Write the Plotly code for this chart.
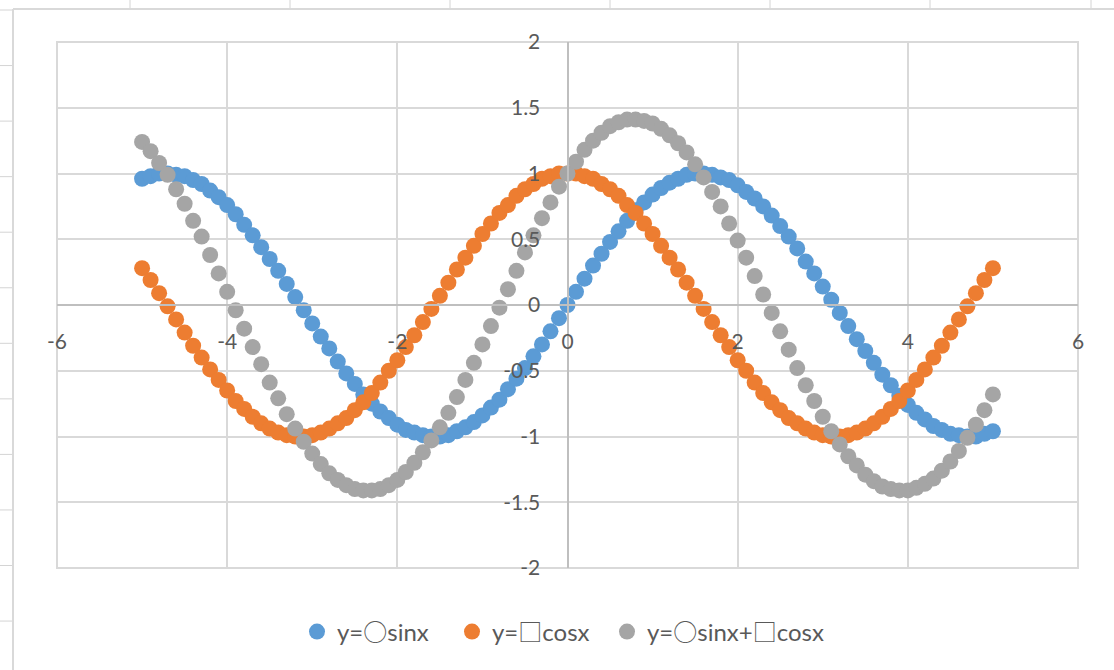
import plotly.graph_objects as go

# x from -5 to 5 in steps of 0.1
x_vals = [
    -5.0, -4.9, -4.8, -4.7, -4.6, -4.5, -4.4, -4.3, -4.2, -4.1,
    -4.0, -3.9, -3.8, -3.7, -3.6, -3.5, -3.4, -3.3, -3.2, -3.1,
    -3.0, -2.9, -2.8, -2.7, -2.6, -2.5, -2.4, -2.3, -2.2, -2.1,
    -2.0, -1.9, -1.8, -1.7, -1.6, -1.5, -1.4, -1.3, -1.2, -1.1,
    -1.0, -0.9, -0.8, -0.7, -0.6, -0.5, -0.4, -0.3, -0.2, -0.1,
    0.0, 0.1, 0.2, 0.3, 0.4, 0.5, 0.6, 0.7, 0.8, 0.9,
    1.0, 1.1, 1.2, 1.3, 1.4, 1.5, 1.6, 1.7, 1.8, 1.9,
    2.0, 2.1, 2.2, 2.3, 2.4, 2.5, 2.6, 2.7, 2.8, 2.9,
    3.0, 3.1, 3.2, 3.3, 3.4, 3.5, 3.6, 3.7, 3.8, 3.9,
    4.0, 4.1, 4.2, 4.3, 4.4, 4.5, 4.6, 4.7, 4.8, 4.9,
    5.0,
]

sin_vals = [
    0.96, 0.98, 1.00, 1.00, 0.99, 0.98, 0.95, 0.92, 0.87, 0.82,
    0.76, 0.69, 0.61, 0.53, 0.44, 0.35, 0.26, 0.16, 0.06, -0.04,
    -0.14, -0.24, -0.33, -0.43, -0.52, -0.60, -0.68, -0.75, -0.81, -0.86,
    -0.91, -0.95, -0.97, -0.99, -1.00, -1.00, -0.99, -0.96, -0.93, -0.89,
    -0.84, -0.78, -0.72, -0.64, -0.56, -0.48, -0.39, -0.30, -0.20, -0.10,
    0.00, 0.10, 0.20, 0.30, 0.39, 0.48, 0.56, 0.64, 0.72, 0.78,
    0.84, 0.89, 0.93, 0.96, 0.99, 1.00, 1.00, 0.99, 0.97, 0.95,
    0.91, 0.86, 0.81, 0.75, 0.68, 0.60, 0.52, 0.43, 0.33, 0.24,
    0.14, 0.04, -0.06, -0.16, -0.26, -0.35, -0.44, -0.53, -0.61, -0.69,
    -0.76, -0.82, -0.87, -0.92, -0.95, -0.98, -0.99, -1.00, -1.00, -0.98,
    -0.96,
]

cos_vals = [
    0.28, 0.19, 0.09, -0.01, -0.11, -0.21, -0.31, -0.40, -0.49, -0.57,
    -0.65, -0.73, -0.79, -0.85, -0.90, -0.94, -0.97, -0.99, -1.00, -1.00,
    -0.99, -0.97, -0.94, -0.90, -0.86, -0.80, -0.74, -0.67, -0.59, -0.50,
    -0.42, -0.32, -0.23, -0.13, -0.03, 0.07, 0.17, 0.27, 0.36, 0.45,
    0.54, 0.62, 0.70, 0.76, 0.83, 0.88, 0.92, 0.96, 0.98, 1.00,
    1.00, 1.00, 0.98, 0.96, 0.92, 0.88, 0.83, 0.76, 0.70, 0.62,
    0.54, 0.45, 0.36, 0.27, 0.17, 0.07, -0.03, -0.13, -0.23, -0.32,
    -0.42, -0.50, -0.59, -0.67, -0.74, -0.80, -0.86, -0.90, -0.94, -0.97,
    -0.99, -1.00, -1.00, -0.99, -0.97, -0.94, -0.90, -0.85, -0.79, -0.73,
    -0.65, -0.57, -0.49, -0.40, -0.31, -0.21, -0.11, -0.01, 0.09, 0.19,
    0.28,
]

sum_vals = [
    1.24, 1.17, 1.08, 0.99, 0.88, 0.77, 0.64, 0.52, 0.38, 0.24,
    0.10, -0.04, -0.18, -0.32, -0.45, -0.59, -0.71, -0.83, -0.94, -1.04,
    -1.13, -1.21, -1.28, -1.33, -1.37, -1.40, -1.41, -1.41, -1.40, -1.37,
    -1.33, -1.27, -1.20, -1.12, -1.03, -0.93, -0.82, -0.70, -0.57, -0.44,
    -0.30, -0.16, -0.02, 0.12, 0.26, 0.40, 0.53, 0.66, 0.78, 0.90,
    1.00, 1.09, 1.18, 1.25, 1.31, 1.36, 1.39, 1.41, 1.41, 1.40,
    1.38, 1.34, 1.29, 1.23, 1.16, 1.07, 0.97, 0.86, 0.75, 0.62,
    0.49, 0.36, 0.22, 0.08, -0.06, -0.20, -0.34, -0.48, -0.61, -0.73,
    -0.85, -0.96, -1.06, -1.15, -1.22, -1.29, -1.34, -1.38, -1.40, -1.41,
    -1.41, -1.39, -1.36, -1.32, -1.26, -1.19, -1.11, -1.01, -0.91, -0.80,
    -0.68,
]

x_tick_vals = [-6, -4, -2, 0, 2, 4, 6]
x_tick_text = ["-6", "-4", "-2", "0", "2", "4", "6"]
y_tick_vals = [-2, -1.5, -1, -0.5, 0, 0.5, 1, 1.5, 2]
y_tick_text = ["-2", "-1.5", "-1", "-0.5", "0", "0.5", "1", "1.5", "2"]

# the placeholder circle/square are drawn with a CJK font so they come out full width
CJK = "<span style=\"font-family:'Noto Sans CJK JP'\">{}</span>"
series_names = [
    "y=" + CJK.format("○") + "sinx",
    "y=" + CJK.format("□") + "cosx",
    "y=" + CJK.format("○") + "sinx+" + CJK.format("□") + "cosx",
]
series_colors = ["#5b9bd5", "#ed7d31", "#a5a5a5"]
legend_ids = ["legend", "legend2", "legend3"]

W, H = 1114, 670
L, R, T, B = 57, 1078, 42, 568  # plot area in pixels
GRID = "#d9d9d9"
TEXT = "#595959"
FONT = "Lato, 'Noto Sans CJK JP', sans-serif"


def px_x(p):
    return (p - L) / (R - L)


def px_y(p):
    return (B - p) / (B - T)


fig = go.Figure()
for name, ys, col, lg in zip(series_names, [sin_vals, cos_vals, sum_vals],
                             series_colors, legend_ids):
    fig.add_trace(go.Scatter(
        x=x_vals, y=ys, name=name, mode="markers", legend=lg,
        marker=dict(size=16, color=col, line=dict(width=0)),
    ))

shapes = []
# worksheet cell lines around the chart object
for gx in [130, 290, 450, 610, 770, 930, 1091]:
    shapes.append(dict(type="line", xref="paper", yref="paper",
                       x0=px_x(gx), x1=px_x(gx), y0=px_y(0), y1=px_y(9),
                       line=dict(color="#d4d4d4", width=1), layer="below"))
for k in range(12):
    gy = 10 + 55.55 * k
    shapes.append(dict(type="line", xref="paper", yref="paper",
                       x0=px_x(0), x1=px_x(12), y0=px_y(gy), y1=px_y(gy),
                       line=dict(color="#d4d4d4", width=1), layer="below"))
# chart object border
shapes.append(dict(type="line", xref="paper", yref="paper",
                   x0=px_x(13), x1=px_x(13), y0=px_y(9), y1=px_y(H + 5),
                   line=dict(color=GRID, width=2), layer="below"))
shapes.append(dict(type="line", xref="paper", yref="paper",
                   x0=px_x(13), x1=px_x(W + 5), y0=px_y(9), y1=px_y(9),
                   line=dict(color=GRID, width=2), layer="below"))
# plot area frame
shapes.append(dict(type="rect", xref="paper", yref="paper",
                   x0=0, x1=1, y0=0, y1=1,
                   line=dict(color=GRID, width=2), layer="below"))


def legend_box(left_px):
    return dict(orientation="h", x=px_x(left_px), xanchor="left",
                y=px_y(632), yanchor="middle",
                font=dict(family=FONT, size=24, color=TEXT),
                bgcolor="rgba(0,0,0,0)")


fig.update_layout(
    width=W, height=H,
    margin=dict(l=L, r=W - R, t=T, b=H - B),
    paper_bgcolor="white", plot_bgcolor="white",
    font=dict(family=FONT, size=21, color=TEXT),
    shapes=shapes,
    showlegend=True,
    legend=legend_box(297),
    legend2=legend_box(452),
    legend3=legend_box(607),
    xaxis=dict(range=[-6, 6], tickvals=x_tick_vals, ticktext=x_tick_text,
               showgrid=True, gridcolor=GRID, gridwidth=2, zeroline=False,
               showline=True, linecolor="#bfbfbf", linewidth=2,
               anchor="free", position=0.5, ticks="",
               ticklabelstandoff=18,
               tickfont=dict(family=FONT, size=21, color=TEXT)),
    yaxis=dict(range=[-2, 2], tickvals=y_tick_vals, ticktext=y_tick_text,
               showgrid=True, gridcolor=GRID, gridwidth=2, zeroline=False,
               showline=True, linecolor="#bfbfbf", linewidth=2,
               anchor="free", position=0.5, ticks="",
               ticklabelstandoff=22,
               tickfont=dict(family=FONT, size=21, color=TEXT)),
)

fig.write_html("out.html")
